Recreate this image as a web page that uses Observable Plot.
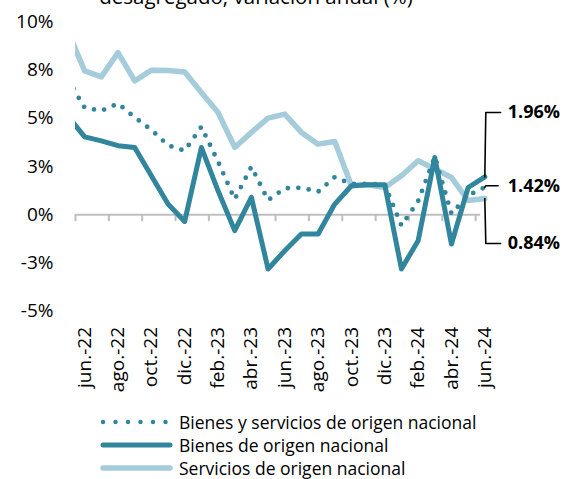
<!DOCTYPE html>
<html><head><meta charset="utf-8">
<script src="https://cdn.jsdelivr.net/npm/d3@7"></script>
<script src="https://cdn.jsdelivr.net/npm/@observablehq/plot@0.6"></script>
<style>
body{margin:0;background:#fff;font-family:"Open Sans",sans-serif;}
#wrap{position:relative;width:571px;height:479px;overflow:hidden;}
#title{position:absolute;top:-14px;left:0;width:512px;text-align:center;font-size:20.5px;line-height:20px;color:#000;white-space:nowrap;}
#chart{position:absolute;top:0;left:0;}
#legend{position:absolute;top:410px;left:98px;font-size:17.5px;color:#000;}
.row{display:flex;align-items:center;height:23.3px;}
.row svg{margin-right:5px;}
</style></head><body>
<div id="wrap">
<div id="title">desagregado, variación anual (%)</div>
<div id="chart"></div>
<div id="legend"></div>
</div>
<script>
// Months (may.-22 is partly outside the plot area, clipped at the left edge)
const months = ["may.-22","jun.-22","jul.-22","ago.-22","sep.-22","oct.-22","nov.-22","dic.-22",
  "ene.-23","feb.-23","mar.-23","abr.-23","may.-23","jun.-23","jul.-23","ago.-23","sep.-23","oct.-23","nov.-23","dic.-23",
  "ene.-24","feb.-24","mar.-24","abr.-24","may.-24","jun.-24"];
const bienesServicios = [7.0,5.55,5.39,5.77,5.05,4.40,3.60,3.32,4.56,2.75,0.80,2.49,0.75,1.37,1.40,1.19,1.95,1.60,1.60,1.55,-0.57,0.70,3.00,0.05,1.00,1.42];
const bienes = [5.1,4.04,3.83,3.58,3.49,2.02,0.55,-0.35,3.49,1.24,-0.83,0.90,-2.82,-1.87,-1.00,-1.00,0.55,1.50,1.55,1.55,-2.82,-1.35,2.97,-1.52,1.41,1.96];
const servicios = [9.5,7.46,7.15,8.41,6.94,7.50,7.48,7.40,6.34,5.30,3.49,4.27,5.01,5.22,4.27,3.66,3.80,1.50,1.55,1.41,2.02,2.80,2.37,1.93,0.73,0.84];
const seriesNames = ["Bienes y servicios de origen nacional","Bienes de origen nacional","Servicios de origen nacional"];
const tickLabels = ["jun.-22","ago.-22","oct.-22","dic.-22","feb.-23","abr.-23","jun.-23","ago.-23","oct.-23","dic.-23","feb.-24","abr.-24","jun.-24"];
const yTicks = [-5,-2.5,0,2.5,5,7.5,10];
const endLabels = ["1.96%","1.42%","0.84%"];
const endLabelLevels = [5.3, 1.5, -1.5];

const DARK = "#31859c", LIGHT = "#a5ccda";
const mIndex = mo => months.indexOf(mo) - 1; // jun.-22 = 0
const rows = months.map((mo,i)=>({m:i-1, bs:bienesServicios[i], b:bienes[i], s:servicios[i]}));
const X0 = -0.55, XMAX = 29.2;
const labelMs = tickLabels.map(mIndex);
const tickMs = labelMs.map(m => m + X0);
const last = months.length - 1;
const endVals = [bienes[last], bienesServicios[last], servicios[last]];
const bracket = [];
endVals.forEach((v,k)=>{
  const lvl = endLabelLevels[k];
  const lastM = last - 1;
  bracket.push({k, x:lastM, y:v});
  bracket.push({k, x:lastM+0.06, y:lvl});
  bracket.push({k, x:lastM+(k===1?0.8:0.95), y:lvl});
});
const annots = endLabels.map((t,k)=>({t, y:endLabelLevels[k], x:last-1+1.38}));

const fmt = v => (v<0?"-":"") + Math.round(Math.abs(v)) + "%";

const chart = Plot.plot({
  width:571, height:405,
  marginLeft:75, marginRight:0, marginTop:21.5, marginBottom:94.5,
  x:{domain:[X0, XMAX], axis:null},
  y:{domain:[-5,10], axis:null},
  style:{fontFamily:"Open Sans", fontSize:"19px", color:"#000", background:"transparent", overflow:"visible"},
  marks:[
    Plot.axisY(yTicks, {tickSize:0, tickPadding:22, tickFormat:fmt, fontSize:19}),
    Plot.ruleY([0], {x1:X0, x2:23.75, stroke:"#bfbfbf", strokeWidth:2}),
    Plot.ruleX(tickMs, {x:d=>d, y1:0, y2:0, insetBottom:-7, stroke:"#bfbfbf", strokeWidth:2}),
    Plot.axisX(labelMs, {tickSize:0, tickRotate:-90, tickPadding:16, tickFormat:m=>months[m+1], fontSize:19}),
    Plot.line(rows, {x:"m", y:"s", stroke:LIGHT, strokeWidth:5.5, clip:"frame"}),
    Plot.line(rows, {x:"m", y:"b", stroke:DARK, strokeWidth:5, clip:"frame"}),
    Plot.line(rows, {x:"m", y:"bs", stroke:DARK, strokeWidth:4.8, strokeDasharray:"0 10.5", strokeLinecap:"round", clip:"frame"}),
    Plot.line(bracket, {x:"x", y:"y", z:"k", stroke:"#000", strokeWidth:1.6}),
    Plot.text(annots, {x:"x", y:"y", text:"t", textAnchor:"start", fontWeight:"bold", fontSize:18, fill:"#000"})
  ]
});
document.getElementById("chart").appendChild(chart);

// Legend
const leg = document.getElementById("legend");
const styles = [
  `stroke="${DARK}" stroke-width="4.5" stroke-linecap="round" stroke-dasharray="0 12.5"`,
  `stroke="${DARK}" stroke-width="5" stroke-linecap="round"`,
  `stroke="${LIGHT}" stroke-width="5.5" stroke-linecap="round"`
];
seriesNames.forEach((n,i)=>{
  const r = document.createElement("div");
  r.className = "row";
  r.innerHTML = `<svg width="76" height="10"><line x1="5" x2="72" y1="5" y2="5" ${styles[i]}/></svg><span>${n}</span>`;
  leg.appendChild(r);
});
</script>
</body></html>
